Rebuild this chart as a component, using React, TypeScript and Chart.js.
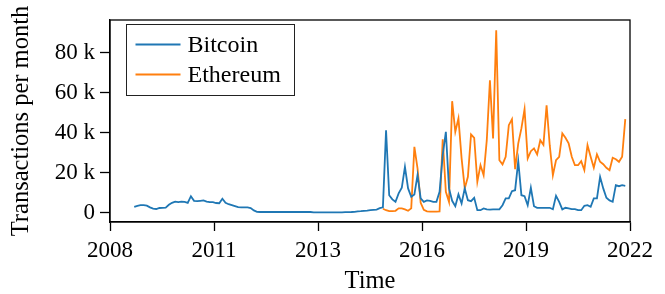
import React, { useEffect, useRef } from "react";
import { Chart, registerables } from "chart.js";

Chart.register(...registerables);

const FONT_FAMILY = '"Liberation Serif", "DejaVu Serif", serif';

// x values: months counted from January 2009
const X_MIN = -7.7;
const X_MAX = 157.5;
const xTickLabels = ["2008", "2011", "2013", "2016", "2019", "2022"];

// y values: thousands of transactions
const Y_MIN = -4.6;
const Y_MAX = 96.4;
const yTickValues = [0, 20, 40, 60, 80];
const yTickLabels = ["0", "20 k", "40 k", "60 k", "80 k"];

const xTitle = "Time";
const yTitle = "Transactions per month";

const seriesNames = ["Bitcoin", "Ethereum"];
const seriesColors = ["#1f77b4", "#ff7f0e"];

const bitcoinStartMonth = 0;
const bitcoinK = [
  3.0, 3.5, 3.8, 3.8, 3.6, 2.7, 2.1, 1.9, 2.4, 2.5, 2.6,
  4.0, 5.0, 5.6, 5.3, 5.6, 5.5, 5.0, 8.3, 6.0, 5.8,
  6.0, 6.2, 5.6, 5.3, 5.3, 4.9, 4.8, 7.0, 5.0, 4.3,
  3.8, 3.3, 2.8, 2.7, 2.7, 2.7, 2.4, 1.2, 0.5, 0.4,
  0.4, 0.4, 0.4, 0.4, 0.4, 0.4, 0.4, 0.4, 0.4, 0.4,
  0.4, 0.4, 0.4, 0.4, 0.4, 0.4,
  0.25, 0.25, 0.25, 0.25, 0.25, 0.25, 0.25, 0.25, 0.25, 0.25,
  0.3, 0.35, 0.4, 0.5,
  0.7, 0.8, 1.0, 1.1, 1.3, 1.5, 1.6, 2.3, 2.7, 41.3,
  8.8, 6.7, 5.5, 9.7, 12.5, 23.0, 12.2, 8.0, 9.2, 18.8,
  7.2, 5.5, 6.2, 6.0, 5.5, 5.5, 10.5, 28.8, 40.5, 12.2,
  6.0, 3.3, 9.2, 4.7, 12.2, 6.3, 5.8, 7.5, 1.3, 1.3,
  2.2, 1.7, 1.6, 1.7, 1.7, 1.7, 3.8, 7.2, 7.2, 10.8,
  11.3, 25.8, 8.8, 8.3, 3.8, 12.5, 3.3, 2.5, 2.5, 2.5,
  2.5, 2.5, 1.8, 8.5, 5.5, 1.7, 2.5, 2.2, 1.8, 1.8,
  1.3, 1.3, 3.5, 3.8, 3.0, 7.2, 7.2, 18.0, 12.2, 7.5,
  6.2, 5.5, 13.8, 13.3, 13.8, 13.5,
];

const ethereumStartMonth = 79;
const ethereumK = [
  2.0, 1.3, 0.8, 0.8, 1.0, 2.2, 2.2, 1.7, 1.0, 2.2,
  33.0, 22.2, 5.0, 1.5, 0.7, 0.6, 0.6, 0.6, 0.7, 36.8,
  10.5, 5.5, 55.8, 40.5, 47.2, 27.2, 12.2, 18.0, 39.2, 37.5,
  15.5, 23.8, 18.8, 36.3, 66.3, 37.2, 91.3, 26.3, 24.2, 28.0,
  43.8, 46.8, 21.8, 34.7, 42.2, 51.8, 27.2, 30.8, 32.2, 29.2,
  36.3, 34.0, 53.8, 33.8, 18.8, 26.3, 28.0, 39.7, 37.5, 34.7,
  28.0, 23.8, 23.8, 25.8, 21.3, 33.8, 28.0, 22.5, 29.2, 25.5,
  24.3, 22.5, 21.3, 27.5, 26.8, 25.5, 28.0, 46.8,
];

const toPoints = (start: number, values: number[]) =>
  values.map((v, i) => ({ x: start + i, y: v }));

const framePlugin = {
  id: "frameAndLegend",
  afterDatasetsDraw(chart: any) {
    const { ctx, chartArea: a } = chart;
    ctx.save();
    ctx.strokeStyle = "#000";
    ctx.lineWidth = 1.3;
    ctx.strokeRect(a.left, a.top, a.right - a.left, a.bottom - a.top);

    // legend box
    const bx = Math.round(a.left + 16) + 0.5;
    const by = Math.round(a.top + 4) + 0.5;
    const bw = 168;
    const bh = 71;
    ctx.fillStyle = "#fff";
    ctx.fillRect(bx, by, bw, bh);
    ctx.strokeStyle = "#222";
    ctx.lineWidth = 1;
    ctx.strokeRect(bx, by, bw, bh);
    ctx.font = `24px ${FONT_FAMILY}`;
    ctx.textBaseline = "middle";
    ctx.textAlign = "left";
    chart.data.datasets.forEach((ds: any, i: number) => {
      const y = by + 20 + i * 30;
      ctx.strokeStyle = ds.borderColor;
      ctx.lineWidth = 1.8;
      ctx.beginPath();
      ctx.moveTo(bx + 9, y);
      ctx.lineTo(bx + 54, y);
      ctx.stroke();
      ctx.fillStyle = "#000";
      ctx.fillText(ds.label, bx + 61, y + 1);
    });
    ctx.restore();
  },
};

export default function App() {
  const canvasRef = useRef<HTMLCanvasElement | null>(null);

  useEffect(() => {
    if (!canvasRef.current) return;
    const tickFont = { family: FONT_FAMILY, size: 23 };
    const titleFont = { family: FONT_FAMILY, size: 24.5, lineHeight: 1 };
    const chart = new Chart(canvasRef.current, {
      type: "line",
      data: {
        datasets: [
          {
            label: seriesNames[0],
            data: toPoints(bitcoinStartMonth, bitcoinK),
            borderColor: seriesColors[0],
            backgroundColor: seriesColors[0],
            borderWidth: 1.8,
            pointRadius: 0,
            tension: 0,
          },
          {
            label: seriesNames[1],
            data: toPoints(ethereumStartMonth, ethereumK),
            borderColor: seriesColors[1],
            backgroundColor: seriesColors[1],
            borderWidth: 1.8,
            pointRadius: 0,
            tension: 0,
          },
        ],
      },
      options: {
        responsive: false,
        animation: false,
        layout: { padding: { top: 20, right: 35, left: 0, bottom: 0 } },
        plugins: {
          legend: { display: false },
          tooltip: { enabled: false },
        },
        scales: {
          x: {
            type: "linear",
            min: X_MIN,
            max: X_MAX,
            afterBuildTicks: (scale: any) => {
              scale.ticks = xTickLabels.map((_, i) => ({
                value: X_MIN + (i * (X_MAX - X_MIN)) / (xTickLabels.length - 1),
              }));
            },
            afterFit: (scale: any) => {
              scale.height = 72;
            },
            ticks: {
              autoSkip: false,
              maxRotation: 0,
              padding: 6,
              color: "#000",
              font: tickFont,
              callback: (_v: any, i: number) => xTickLabels[i],
            },
            grid: {
              drawOnChartArea: false,
              drawTicks: true,
              tickLength: 9,
              tickWidth: 1.3,
              tickColor: "#000",
            },
            border: { display: true, color: "#000", width: 1.3 },
            title: {
              display: true,
              text: xTitle,
              color: "#000",
              font: titleFont,
              padding: { top: 0, bottom: 0 },
            },
          },
          y: {
            type: "linear",
            min: Y_MIN,
            max: Y_MAX,
            afterBuildTicks: (scale: any) => {
              scale.ticks = yTickValues.map((v) => ({ value: v }));
            },
            afterFit: (scale: any) => {
              scale.width = 110;
            },
            ticks: {
              padding: 5,
              color: "#000",
              font: tickFont,
              callback: (_v: any, i: number) => yTickLabels[i],
            },
            grid: {
              drawOnChartArea: false,
              drawTicks: true,
              tickLength: 10,
              tickWidth: 1.3,
              tickColor: "#000",
            },
            border: { display: true, color: "#000", width: 1.3 },
            title: {
              display: true,
              text: yTitle,
              color: "#000",
              font: titleFont,
              padding: { top: 9, bottom: 0 },
            },
          },
        },
      },
      plugins: [framePlugin],
    } as any);
    return () => chart.destroy();
  }, []);

  return (
    <div style={{ position: "absolute", left: 0, top: 0, width: 665, height: 294, background: "#fff" }}>
      <canvas ref={canvasRef} width={665} height={294} />
    </div>
  );
}
